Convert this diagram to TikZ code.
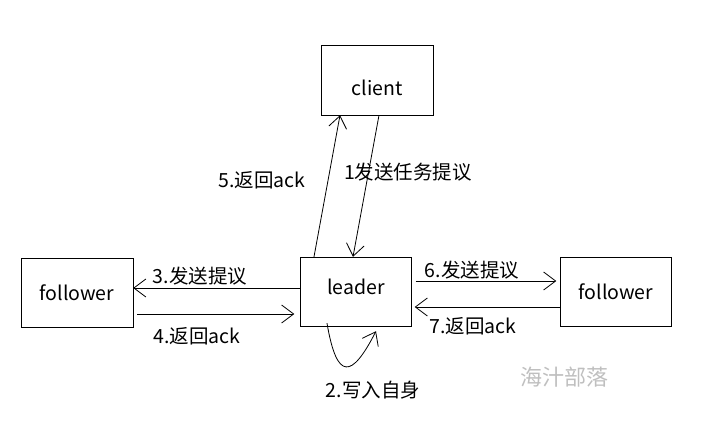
\documentclass[tikz,border=0pt]{standalone}
\usepackage{fontspec}
\setmainfont{Noto Sans CJK SC}
\usetikzlibrary{arrows.meta,positioning,calc}

\begin{document}
\begin{tikzpicture}[
    x=1pt, y=-1pt,
    box/.style={draw, rectangle, minimum width=111pt, minimum height=69pt, inner sep=0pt, font=\fontsize{19.5}{21}\selectfont},
    label/.style={font=\fontsize{19.5}{21}\selectfont, inner sep=0pt},
    watermark/.style={font=\fontsize{22}{24}\selectfont, text=black!25, inner sep=0pt},
    edge/.style={-{Straight Barb[length=12pt,width=18pt]}, line width=0.8pt},
]

\useasboundingbox (0,0) rectangle (710,425);

% Client
\node[box, minimum width=112pt, minimum height=70pt] (client) at (377, 80) {\raisebox{-16pt}[0pt][0pt]{client}};

% Leader
\node[box] (leader) at (356, 291.5) {\raisebox{-3pt}[0pt][0pt]{leader}};

% Followers
\node[box, minimum width=112pt] (lfollower) at (77, 292.5) {follower};
\node[box] (rfollower) at (616, 291.5) {follower};

% Client <-> leader
\draw[edge] ([xshift=2pt]client.south) -- ([xshift=-3pt]leader.north);
\draw[edge] ([xshift=-42pt]leader.north) -- ([xshift=-37pt]client.south);
\node[label] at (408, 172) {1发送任务提议};
\node[label] at (262, 180) {5.返回ack};

% Leader <-> left follower
\draw[edge] ([yshift=3.5pt]leader.west) -- ([yshift=4.5pt]lfollower.east);
\draw[edge] ([xshift=4pt, yshift=-21.5pt]lfollower.east) -- ([xshift=-6pt, yshift=-22.5pt]leader.west);
\node[label] at (200, 276) {3.发送提议};
\node[label] at (197, 336) {4.返回ack};

% Leader <-> right follower
\draw[edge] ([xshift=4pt, yshift=10.5pt]leader.east) -- ([xshift=-4pt, yshift=10.5pt]rfollower.west);
\draw[edge] ([yshift=-15.5pt]rfollower.west) -- ([xshift=3pt, yshift=-15.5pt]leader.east);
\node[label] at (472, 270) {6.发送提议};
\node[label] at (473, 326) {7.返回ack};

% Write to self
\draw[edge] ([xshift=-29pt, yshift=3pt]leader.south) .. controls (337, 382) and (352, 378) .. ([xshift=20pt, yshift=-5pt]leader.south);
\node[label] at (373, 390) {2.写入自身};

% Watermark
\node[watermark] at (564, 377) {海汁部落};

\end{tikzpicture}
\end{document}
